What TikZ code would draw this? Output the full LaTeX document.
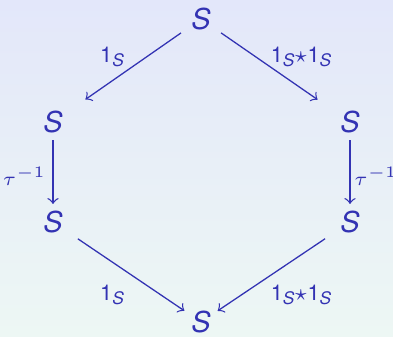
\documentclass[tikz,border=0pt]{standalone}
\usepackage{fontspec}
\setsansfont{TeX Gyre Heros}
\usepackage{tikz}
\definecolor{sblue}{RGB}{51,51,179}
\definecolor{bgtop}{RGB}{227,231,250}
\definecolor{bgbot}{RGB}{237,247,244}
\newcommand{\Ss}{{\fontsize{9}{10}\selectfont\sffamily\itshape S}}
\newcommand{\oneS}{{\fontsize{6.8}{7}\selectfont\sffamily 1}\raisebox{-1.3pt}{\fontsize{5.4}{6}\selectfont\sffamily\itshape S}}
\newcommand{\stS}{{\fontsize{7}{7}\selectfont$\star$}}
\newcommand{\tauinv}{{\fontsize{6.4}{7}\selectfont$\tau^{-1}$}}
\begin{document}
\begin{tikzpicture}[x=0.3125pt,y=-0.3125pt,
  obj/.style={text=sblue,inner sep=2pt},
  lab/.style={text=sblue,inner sep=0pt},
  arr/.style={draw=sblue,line width=0.4pt,->},
  uparr/.style={arr,shorten <=1.3pt,shorten >=6pt},
  lowarr/.style={arr,shorten <=3.1pt}]
\shade[top color=bgtop,bottom color=bgbot] (0,0) rectangle (393,336);
\useasboundingbox (0,0) rectangle (393,336);
\node[obj] (t) at (201,19) {\Ss};
\node[obj] (l1) at (53,122) {\Ss};
\node[obj] (r1) at (350,122) {\Ss};
\node[obj] (l2) at (53,222) {\Ss};
\node[obj] (r2) at (350,222) {\Ss};
\node[obj] (b) at (201,322) {\Ss};
\draw[uparr] (t) -- (l1);
\draw[uparr] (t) -- (r1);
\draw[arr] (l1) -- (l2);
\draw[arr] (r1) -- (r2);
\draw[lowarr] (l2) -- (b);
\draw[lowarr] (r2) -- (b);
\node[lab] (a1) at (112,57) {\oneS};
\node[lab] (a2) at (301,57) {\oneS\stS\oneS};
\node[lab] (a3) at (24.5,176) {\tauinv};
\node[lab] (a4) at (376,176) {\tauinv};
\node[lab] (a5) at (112,295) {\oneS};
\node[lab] (a6) at (301,295) {\oneS\stS\oneS};
\end{tikzpicture}
\end{document}
